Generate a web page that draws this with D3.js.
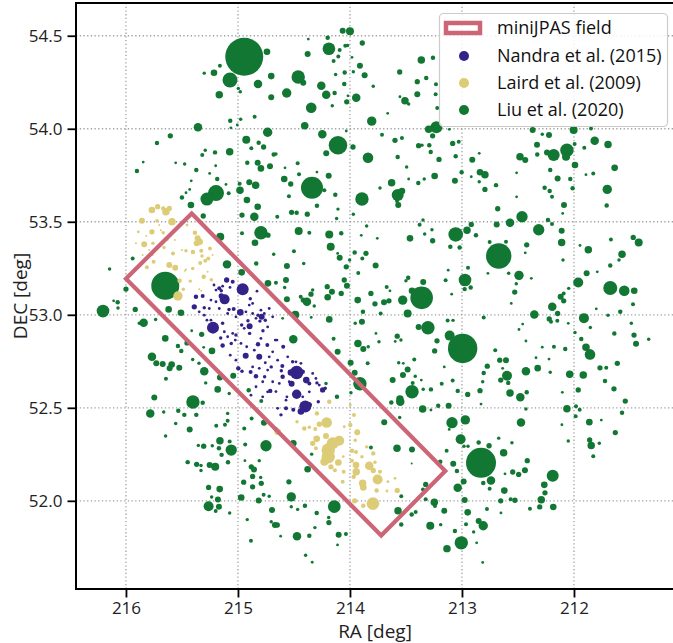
<!DOCTYPE html>
<html><head><meta charset="utf-8">
<script src="https://cdn.jsdelivr.net/npm/d3@7"></script>
<style>body{margin:0;background:#fff}svg{display:block;font-family:"Open Sans",sans-serif}</style>
</head><body><svg id="c" width="673" height="643"></svg>
<script>
const raTicks=[216,215,214,213,212];
const decTicks=[52.0,52.5,53.0,53.5,54.0,54.5];
const fieldCorners=[[216.0,53.194],[215.413,53.545],[213.149,52.160],[213.721,51.814]];
const legendLabels=["miniJPAS field","Nandra et al. (2015)","Laird et al. (2009)","Liu et al. (2020)"];
// [RA, DEC, relative flux]
const liu=[[214.944,54.387,361],[214.741,54.414,11],[215.161,54.339,4],[215.214,54.301,11],[215.301,54.299,3],[215.071,54.262,56],[214.821,54.240,18],[214.703,54.283,11],[215.167,54.183,14],[214.997,54.217,3],[214.979,54.199,3],[214.703,54.169,9],[215.069,54.043,5],[214.976,54.051,3],[214.851,54.065,4],[215.063,54.005,2],[215.006,54.020,2],[215.357,54.008,18],[215.604,53.962,7],[215.723,53.923,5],[214.735,53.981,22],[214.926,53.941,16],[214.815,53.925,5],[214.771,53.902,7],[214.881,53.895,4],[214.681,53.862,5],[215.074,53.876,14],[215.205,53.873,5],[215.292,53.885,3],[215.319,53.859,4],[215.846,53.821,2],[215.556,53.817,2],[215.476,53.810,3],[215.199,53.801,2],[214.917,53.817,5],[214.824,53.817,9],[214.795,53.787,11],[214.714,53.798,9],[215.902,53.773,5],[215.372,53.778,5],[215.253,53.760,2],[215.185,53.730,5],[215.417,53.720,2],[215.107,53.701,2],[214.899,53.713,9],[214.842,53.696,14],[214.985,53.704,4],[214.982,53.669,14],[215.083,53.653,4],[215.196,53.654,64],[215.277,53.622,42],[215.464,53.656,2],[215.431,53.674,2],[215.500,53.631,5],[214.920,53.617,11],
[214.000,54.524,16],[214.065,54.527,9],[214.372,54.482,2],[214.199,54.489,5],[214.188,54.430,40],[214.378,54.402,9],[214.092,54.423,4],[214.042,54.446,4],[214.021,54.448,3],[213.890,54.461,7],[214.104,54.389,4],[214.146,54.364,4],[213.982,54.384,2],[213.911,54.339,9],[214.462,54.278,45],[214.417,54.247,9],[214.128,54.292,3],[214.047,54.303,5],[213.970,54.306,3],[213.869,54.287,9],[214.051,54.240,5],[213.792,54.228,3],[214.565,54.192,22],[214.256,54.231,18],[214.212,54.183,18],[214.137,54.192,5],[214.018,54.177,2],[213.944,54.167,18],[214.029,54.145,7],[214.346,54.113,28],[214.158,54.124,3],[213.663,54.083,2],[213.806,54.041,22],[214.404,54.016,14],[214.033,53.988,2],[214.247,53.970,18],[214.107,53.911,86],[213.973,53.902,7],[214.212,53.868,9],[213.714,53.968,4],[213.839,53.844,28],[213.574,53.848,5],[213.598,53.938,7],[213.536,53.950,4],[213.387,53.909,7],[213.357,53.912,3],[213.292,53.911,5],[213.279,53.875,5],[213.205,53.835,7],[213.494,53.794,3],[213.244,53.746,11],[213.083,53.921,7],[213.029,53.930,4],[213.056,53.852,5],[212.908,53.833,9],[213.003,53.766,5],[213.063,53.720,9],[213.363,54.369,14],[213.259,54.382,5],[213.556,54.305,7],[213.399,54.253,7],[213.319,54.273,5],[213.399,54.185,9],[213.509,54.151,14],[213.554,54.172,2],[213.476,54.133,3],[213.232,54.239,4],[213.235,54.185,4],[213.221,54.111,4],[213.229,54.008,36],[213.297,53.997,14],[213.262,53.962,7],[213.113,53.997,2],[214.587,53.730,11],[214.529,53.703,7],[214.467,53.814,4],[214.455,53.756,4],[214.580,53.790,2],[214.661,53.864,3],[214.339,53.683,121],[214.295,53.767,2],[214.190,53.747,9],[214.229,53.670,4],[214.131,53.645,5],[214.545,53.637,4],[213.893,53.622,45],[213.732,53.681,3],[213.628,53.710,14],[213.574,53.644,36],[213.536,53.665,11],[213.476,53.730,2],[213.390,53.708,5],[213.337,53.730,3],[212.917,53.742,2],
[212.003,53.993,16],[212.369,53.993,9],[212.283,53.970,3],[212.223,53.966,9],[211.848,54.002,4],[211.815,53.935,18],[211.696,53.916,14],[212.330,53.914,9],[212.328,53.862,5],[212.181,53.859,36],[212.241,53.873,9],[212.063,53.885,45],[212.071,53.849,16],[211.994,53.918,4],[211.991,53.805,11],[211.908,53.898,4],[212.482,53.849,14],[212.435,53.832,9],[212.512,53.763,2],[211.637,53.790,11],[211.893,53.753,2],[211.828,53.760,4],[212.846,53.868,2],[212.839,53.766,11],[212.795,53.753,14],[212.846,53.715,3],[212.795,53.674,7],[212.696,53.697,5],[212.262,53.683,5],[212.217,53.665,5],[212.196,53.634,4],[212.212,53.778,5],[212.146,53.733,9],[212.033,53.730,5],[212.012,53.680,5],[211.703,53.674,22],[212.512,53.634,2],
[215.420,53.590,11],[214.824,53.581,11],[214.964,53.536,7],[214.854,53.527,18],[214.795,53.441,45],[214.732,53.428,7],[214.848,53.387,11],[214.964,53.438,4],[215.310,53.531,7],[215.158,53.419,16],[214.681,53.325,3],[215.098,53.271,18],[214.967,53.228,11],[214.837,53.276,5],[214.732,53.169,11],[215.649,53.156,196],[215.940,53.303,4],[216.146,53.246,3],[216.000,53.138,7],[216.110,53.075,2],[216.074,53.067,5],[216.071,53.036,3],[216.205,53.020,40],[215.917,53.029,7],[215.619,53.029,11],[215.509,53.011,11],[215.842,52.957,18],[215.881,52.954,3],[215.735,52.975,3],[215.413,52.914,2],[215.324,52.895,7],[215.649,52.873,11],[215.455,52.849,7],[215.536,52.832,5],[215.506,52.805,5],[215.306,52.825,2],[215.232,52.806,11],[215.768,52.774,18],[215.729,52.739,9],[215.672,52.735,9],[215.592,52.733,11],[215.610,52.712,9],[215.524,52.715,9],[215.404,52.760,3],[215.348,52.739,3],[215.301,52.696,18],[215.161,52.663,9],[215.042,52.672,9],[215.643,52.656,4],[215.288,52.634,3],[215.181,52.599,11],[214.904,52.594,5],[215.078,52.577,3],[215.747,52.556,9],[215.402,52.531,45],
[214.295,53.586,5],[214.107,53.568,3],[214.521,53.551,7],[214.476,53.548,5],[214.381,53.541,7],[214.119,53.518,3],[213.970,53.541,3],[214.649,53.527,4],[213.569,53.590,9],[213.580,53.611,4],[213.348,53.509,3],[213.378,53.484,4],[214.458,53.450,16],[214.363,53.441,4],[214.185,53.432,16],[214.078,53.438,5],[213.851,53.477,3],[213.899,53.427,2],[213.756,53.411,2],[213.464,53.411,11],[213.333,53.434,3],[213.262,53.398,7],[213.268,53.457,3],[213.056,53.432,53],[212.955,53.455,14],[212.917,53.486,7],[213.021,53.362,5],[213.104,53.366,5],[214.172,53.366,16],[214.500,53.342,4],[213.958,53.335,5],[214.110,53.330,2],[214.092,53.306,9],[213.857,53.330,7],[213.890,53.303,4],[214.003,53.294,3],[213.771,53.265,9],[214.413,53.276,3],[214.563,53.262,9],[214.033,53.258,7],[213.926,53.224,4],[214.571,53.187,9],[214.661,53.172,4],[214.051,53.187,7],[214.027,53.156,9],[214.583,53.147,3],[214.203,53.151,7],[214.161,53.124,9],[214.199,53.094,11],[214.333,53.133,3],[214.348,53.111,7],[214.440,53.097,4],[214.384,53.070,18],[214.417,53.079,7],[214.319,53.047,3],[214.563,53.083,9],[214.078,53.115,7],[213.931,53.079,11],[213.813,53.115,7],[213.777,53.059,7],[213.696,53.067,9],[213.652,53.075,7],[213.672,53.149,4],[213.643,53.129,2],[213.500,53.183,3],[213.480,53.199,5],[213.346,53.176,9],[213.360,53.091,128],[213.446,53.129,11],[213.529,53.079,22],[213.485,53.007,16],[213.146,53.185,4],[213.123,53.240,2],[212.973,53.187,40],[212.976,53.138,5],[212.922,53.147,5],[212.946,53.253,4],[213.092,53.111,2],[214.488,53.000,16],[214.601,52.981,2],[214.346,52.986,2],[214.185,52.975,11],[213.884,53.016,5],[213.726,53.007,4],[213.953,52.954,3],[213.893,52.962,9],[213.387,52.935,9],[213.304,52.930,45],[213.128,52.969,4],[213.080,52.970,3],[213.110,52.888,25],[212.994,52.819,216],[214.506,52.868,18],[214.146,52.871,4],[213.929,52.846,14],[213.881,52.816,9],[213.837,52.828,3],[213.768,52.900,2],[213.578,52.885,7],[213.545,52.864,3],[213.596,52.857,2],[213.741,52.855,3],[214.110,52.801,9],[213.994,52.742,9],[213.958,52.688,9],[213.842,52.739,4],[213.223,52.860,7],[213.244,52.806,7],[213.426,52.760,4],[213.565,52.742,3],[213.524,52.739,2],[213.485,52.706,9],[213.527,52.677,9],[213.619,52.649,9],[213.417,52.670,3],[213.363,52.649,2],[213.181,52.629,4],[213.083,52.647,4],[213.038,52.591,5],[212.949,52.572,7],[213.277,52.599,5],[213.346,52.600,3],[213.446,52.586,45],[213.440,52.634,4],[213.554,52.547,14],[213.911,52.629,45],[213.991,52.581,3],[214.116,52.559,5],[214.214,52.631,3],[213.158,52.720,2],
[212.089,53.590,9],[211.708,53.588,5],[212.681,53.570,7],[212.464,53.527,32],[212.571,53.495,18],[212.690,53.486,9],[212.232,53.509,5],[212.196,53.488,4],[212.315,53.457,32],[212.110,53.452,9],[212.110,53.389,14],[212.101,53.545,2],[212.875,53.428,5],[212.753,53.391,4],[212.607,53.392,4],[212.422,53.376,7],[212.435,53.333,2],[212.672,53.316,161],[212.098,53.294,3],[211.946,53.373,2],[211.872,53.349,14],[211.670,53.405,4],[211.471,53.416,7],[211.422,53.389,16],[211.571,53.326,14],[211.598,53.294,3],[211.676,53.265,5],[212.768,53.223,2],[212.583,53.223,3],[212.491,53.212,22],[212.381,53.196,2],[212.515,53.167,3],[212.529,53.122,7],[211.887,53.223,9],[211.792,53.231,2],[211.962,53.174,25],[212.047,53.142,3],[211.676,53.144,49],[211.551,53.129,28],[211.462,53.129,11],[212.119,53.097,9],[212.092,53.075,7],[212.092,53.115,4],[212.560,53.061,2],[212.194,53.043,18],[212.354,53.002,18],[212.146,53.007,7],[212.221,52.978,7],[212.205,52.962,4],[212.149,52.968,4],[212.051,52.954,2],[211.911,52.982,25],[211.801,53.032,2],[211.696,52.998,3],[211.587,53.016,5],[211.473,53.056,4],[212.806,52.986,4],[212.458,52.950,2],[212.491,52.921,2],[211.991,52.905,3],[211.854,52.932,3],[211.488,52.954,3],[211.640,52.900,5],[211.464,52.891,7],[211.446,52.844,9],[211.333,52.868,3],[211.935,52.870,5],[211.893,52.825,14],[211.857,52.787,28],[212.078,52.816,5],[212.179,52.828,4],[212.283,52.826,2],[212.429,52.859,2],[212.703,52.810,4],[212.663,52.756,7],[212.607,52.755,9],[212.339,52.769,2],[212.223,52.762,2],[212.774,52.724,7],[212.806,52.687,5],[212.637,52.712,2],[212.429,52.696,18],[212.324,52.713,11],[212.598,52.672,25],[212.654,52.649,7],[212.587,52.634,5],[212.212,52.691,3],[212.038,52.680,14],[211.917,52.676,14],[211.768,52.715,7],[211.712,52.715,4],[211.613,52.739,7],[211.723,52.644,5],[211.643,52.602,7],[211.962,52.596,7],[212.104,52.583,2],[212.571,52.579,14],[212.479,52.557,18],[212.422,52.584,5],[212.839,52.592,7],[212.815,52.640,3],
[215.783,52.470,18],[215.663,52.478,3],[215.533,52.484,5],[215.479,52.462,5],[215.372,52.462,5],[215.315,52.527,5],[215.556,52.416,3],[215.431,52.384,9],[215.646,52.348,3],[215.194,52.403,4],[215.116,52.409,4],[215.092,52.430,4],[215.092,52.470,3],[215.161,52.323,14],[215.074,52.319,4],[215.060,52.273,32],[215.354,52.298,3],[215.306,52.294,7],[215.229,52.296,3],[215.170,52.282,5],[215.146,52.247,5],[215.449,52.208,5],[215.369,52.196,7],[215.330,52.190,3],[215.330,52.163,3],[215.253,52.192,9],[215.203,52.183,16],[215.089,52.207,5],[215.262,52.072,7],[215.163,52.063,11],[215.235,52.021,3],[215.179,52.007,9],[215.262,51.971,25],[215.170,51.968,9],[215.199,51.945,4],[215.074,51.934,3],[214.935,52.303,4],[214.944,52.389,4],[214.878,52.443,4],[214.750,52.296,32],[214.938,52.216,2],[214.810,52.216,3],[214.881,52.183,7],[214.857,52.169,9],[214.869,52.131,7],[214.949,52.100,7],[214.797,52.126,3],[214.792,52.094,7],[214.869,52.075,7],[214.771,52.033,4],[214.721,52.024,3],[214.971,52.018,11],[214.815,52.002,9],[214.696,51.951,9],[214.917,51.899,3],[214.703,51.888,3],[214.670,51.870,9],[214.884,51.785,4],[214.792,52.536,4],[214.768,52.419,9],
[213.551,52.532,18],[213.351,52.493,14],[213.277,52.488,2],[213.212,52.511,5],[213.119,52.511,9],[213.631,52.529,5],[213.694,52.423,9],[213.556,52.448,3],[213.089,52.420,32],[212.970,52.435,22],[213.114,52.384,2],[213.012,52.331,25],[212.982,52.293,3],[212.946,52.293,3],[214.661,52.383,5],[214.506,52.309,11],[214.342,52.251,3],[214.378,52.170,11],[213.813,52.287,4],[213.580,52.282,14],[213.446,52.276,9],[213.137,52.269,4],[213.449,52.201,1],[213.194,52.210,5],[213.078,52.199,9],[213.045,52.160,5],[212.830,52.204,225],[214.545,52.102,7],[213.324,52.088,7],[213.348,52.061,4],[213.038,52.070,18],[212.985,52.104,9],[214.524,52.021,22],[214.402,51.974,5],[214.467,51.954,3],[214.524,51.968,3],[214.140,51.969,40],[214.297,51.935,5],[214.190,51.910,3],[214.188,51.883,7],[214.649,51.870,7],[214.313,51.856,3],[214.473,51.809,18],[214.363,51.812,5],[214.101,51.817,9],[214.036,51.821,4],[214.619,51.810,2],[214.111,51.763,2],[214.396,51.707,3],[214.337,51.670,2],[213.542,52.024,4],[213.324,52.008,4],[213.571,51.947,14],[213.449,51.927,5],[213.413,51.940,4],[213.542,51.873,5],[213.283,51.866,16],[213.247,51.992,14],[213.241,51.972,4],[213.190,51.872,3],[213.158,51.946,9],[213.063,51.838,5],[213.006,51.774,45],[213.134,51.743,14],[212.949,51.938,11],[212.976,52.004,9],[212.964,51.874,4],[212.896,51.833,3],
[212.063,52.495,14],[211.982,52.509,4],[211.949,52.489,4],[211.985,52.454,4],[211.571,52.473,5],[211.542,52.536,7],[212.429,52.494,3],[212.830,52.520,2],[212.473,52.421,18],[212.108,52.409,2],[211.863,52.423,11],[211.756,52.434,2],[211.631,52.367,7],[212.851,52.313,5],[212.758,52.296,7],[212.672,52.337,3],[212.554,52.312,3],[212.051,52.322,3],[211.860,52.327,7],[211.846,52.298,14],[211.774,52.309,3],[211.828,52.240,4],[212.628,52.258,14],[212.417,52.216,7],[212.438,52.164,9],[212.547,52.155,7],[212.494,52.142,7],[212.616,52.145,2],[212.190,52.135,36],[212.741,52.109,18],[212.810,52.096,5],[212.265,52.086,11],[212.753,52.065,4],[212.622,52.055,11],[212.259,52.043,7],[212.654,52.000,7],[212.565,52.008,4],[212.527,52.003,7],[212.292,52.006,14],[212.306,51.967,7],[212.185,51.967,11],[212.393,51.958,4],[212.777,51.956,4],[212.652,51.935,2],[212.851,51.892,9],[212.810,51.866,22],[212.869,51.774,2],[212.815,51.669,2]];
const nandra=[[214.958,53.137,36],[215.119,53.083,25],[215.149,53.101,7],[215.047,53.177,4],[215.101,53.187,7],[215.167,53.142,4],[215.149,53.129,3],[215.214,53.160,2],[215.315,53.101,4],[215.375,53.097,5],[214.890,53.086,3],[214.830,53.127,2],[215.390,53.043,7],[215.301,53.038,3],[215.080,53.029,3],[215.038,53.031,4],[214.979,53.013,11],[214.899,53.052,2],[214.821,52.998,3],[214.788,52.989,9],[214.795,53.025,2],[214.721,53.034,2],[215.223,52.931,36],[215.277,52.971,2],[215.137,52.954,3],[214.967,52.945,3],[214.896,52.939,9],[214.911,52.968,3],[214.804,52.966,3],[214.756,52.971,3],[215.137,52.835,5],[215.154,52.875,3],[215.060,52.846,3],[215.018,52.891,3],[214.931,52.780,9],[214.810,52.774,9],[214.821,52.842,5],[214.738,52.837,4],[215.069,52.783,2],[214.896,52.900,3],[214.777,52.914,3],[214.997,52.712,5],[214.964,52.697,3],[214.887,52.692,4],[214.839,52.670,5],[214.762,52.667,3],[214.756,52.742,2],[214.703,52.720,3],[214.779,52.640,2],[214.712,52.591,5],
[214.476,52.690,45],[214.527,52.690,11],[214.422,52.694,5],[214.604,52.725,4],[214.512,52.747,3],[214.613,52.699,3],[214.601,52.667,5],[214.521,52.629,9],[214.390,52.649,11],[214.363,52.631,4],[214.295,52.634,3],[214.244,52.596,7],[214.221,52.605,3],[214.476,52.573,22],[214.596,52.828,4],[214.652,52.864,2],[214.661,52.587,2],[214.422,52.559,2],[214.563,52.559,2],
[214.399,52.507,36],[214.438,52.480,11],[214.363,52.516,7],[214.506,52.489,4],[214.571,52.497,4],[214.616,52.462,3],[214.283,52.532,3],[214.646,52.497,2],
[215.196,53.133,2],[215.137,53.154,2],[215.071,53.147,2],[215.241,53.079,2],[215.196,53.070,2],[215.256,53.034,2],[215.167,53.034,2],[215.092,53.007,2],[215.018,52.989,2],[214.929,53.016,2],[214.869,53.007,2],[214.839,52.981,2],[214.735,52.935,2],[214.944,52.927,2],[215.047,52.900,2],[215.092,52.882,2],[215.024,52.864,2],[214.973,52.846,2],[214.922,52.828,2],[214.854,52.810,2],[214.721,52.774,2],[214.690,52.801,2],[214.735,52.703,2],[214.810,52.712,2],[214.869,52.720,2],[215.018,52.756,2],[215.122,52.909,2],[215.241,52.971,2],[215.346,53.016,2],[215.301,52.998,2],[214.869,53.061,2],[214.765,53.007,2],[214.690,52.989,2],[214.667,52.864,2],[214.795,52.873,2],[214.839,52.613,2],[214.884,52.568,2],[214.779,52.559,2],[214.690,52.640,2],[214.735,52.586,2],[214.646,52.756,2],[214.556,52.774,2],[214.482,52.747,2],[214.333,52.685,2],[214.304,52.658,2],[214.274,52.622,2],[214.363,52.586,2],[214.542,52.640,2],[214.631,52.631,2],[214.571,52.541,2],[214.438,52.739,2]];
const laird=[[215.768,53.563,11],[215.717,53.581,7],[215.643,53.554,14],[215.667,53.572,5],[215.613,53.572,7],[215.857,53.505,9],[215.723,53.505,3],[215.589,53.500,14],[215.890,53.446,2],[215.768,53.446,7],[215.667,53.441,3],[215.819,53.423,1],[215.837,53.379,9],[215.759,53.384,3],[215.563,53.402,1],[215.455,53.482,2],[215.384,53.441,5],[215.360,53.411,9],[215.342,53.392,11],[215.369,53.384,9],[215.661,53.362,3],[215.580,53.330,4],[215.464,53.344,3],[215.402,53.337,5],[215.328,53.344,4],[215.250,53.357,4],[215.321,53.316,3],[215.265,53.303,4],[215.753,53.285,4],[215.337,53.278,4],[215.292,53.290,4],[215.613,53.267,9],[215.560,53.253,9],[215.813,53.255,4],[215.404,53.249,3],[215.473,53.237,1],[215.306,53.204,5],[215.238,53.188,3],[215.426,53.181,3],[215.521,53.183,5],[215.488,53.137,3],[215.536,53.101,22],[215.346,53.137,1],[215.328,53.129,1],
[215.851,53.321,1],[215.762,53.321,1],[215.688,53.454,1],[215.792,53.348,1],[215.500,53.348,1],[215.464,53.244,1],[215.226,53.321,1],[215.271,53.231,1],[215.703,53.482,1],[215.911,53.384,1],[215.628,53.402,1],
[214.185,52.532,5],[214.295,52.470,5],[214.208,52.421,28],[214.274,52.412,7],[214.363,52.395,3],[214.310,52.386,4],[214.473,52.425,3],[214.408,52.389,5],[214.214,52.348,9],[214.297,52.333,11],[214.096,52.323,25],[214.154,52.310,36],[214.194,52.273,45],[214.333,52.309,7],[214.304,52.282,4],[214.194,52.237,45],[214.229,52.210,16],[214.104,52.206,11],[214.170,52.183,7],[214.134,52.165,4],[214.056,52.156,4],[214.065,52.102,4],[214.646,52.371,11],[213.935,52.368,9],[213.953,52.326,3],[213.997,52.407,5],[213.964,52.461,4],[213.997,52.515,2],[213.982,52.269,5],[213.946,52.263,4],[213.851,52.290,3],[213.792,52.255,5],[213.893,52.237,3],[213.982,52.215,4],[213.946,52.192,11],[213.944,52.156,14],[213.967,52.129,5],[213.828,52.188,18],[213.792,52.163,7],[213.777,52.207,3],[213.732,52.156,4],[213.887,52.094,14],[213.881,52.072,11],[213.753,52.115,25],[213.762,52.055,5],[213.661,52.103,2],[213.598,52.121,2],[213.670,52.053,2],[213.578,52.056,7],[213.998,52.046,1],[213.958,52.000,7],[213.795,51.985,40],[213.881,51.974,5],[214.060,52.238,2],[214.051,52.398,2]];

const W=673,H=643,L=76,R=674,T=3,B=589;
const x=d3.scaleLinear().domain([216.446,211.107]).range([L,R]);
const y=d3.scaleLinear().domain([54.676,51.526]).range([T,B]);
const rs=d3.scaleSqrt().domain([0,400]).range([0,20]);
const svg=d3.select("#c");
svg.append("rect").attr("width",W).attr("height",H).attr("fill","#fff");
svg.append("defs").append("clipPath").attr("id","clip").append("rect").attr("x",L).attr("y",T).attr("width",R-L).attr("height",B-T);

const grid=svg.append("g").attr("stroke","#a0a0a0").attr("stroke-width",1.3).attr("stroke-dasharray","1.3,2.4");
raTicks.forEach(t=>grid.append("line").attr("x1",x(t)).attr("x2",x(t)).attr("y1",T).attr("y2",B));
decTicks.forEach(t=>grid.append("line").attr("x1",L).attr("x2",R).attr("y1",y(t)).attr("y2",y(t)));

const pts=svg.append("g").attr("clip-path","url(#clip)");
function draw(data,color){
  pts.append("g").selectAll("circle").data(data).join("circle")
    .attr("cx",d=>x(d[0])).attr("cy",d=>y(d[1])).attr("r",d=>rs(d[2])).attr("fill",color);
}
draw(liu,"#117733");
draw(nandra,"#332288");
draw(laird,"#DDCC77");

svg.append("path")
  .attr("d",d3.line().x(d=>x(d[0])).y(d=>y(d[1])).curve(d3.curveLinearClosed)(fieldCorners))
  .attr("fill","none").attr("stroke","#CC6677").attr("stroke-width",4.2).attr("stroke-linejoin","miter");

// axes
const gx=svg.append("g").attr("transform",`translate(0,${B})`)
  .call(d3.axisBottom(x).tickValues(raTicks).tickFormat(d3.format("d")).tickSize(8.5).tickPadding(4));
const gy=svg.append("g").attr("transform",`translate(${L},0)`)
  .call(d3.axisLeft(y).tickValues(decTicks).tickFormat(d3.format(".1f")).tickSize(8.5).tickPadding(5));
[gx,gy].forEach(g=>{
  g.select(".domain").remove();
  g.selectAll(".tick line").attr("stroke","#000").attr("stroke-width",1.8);
  g.selectAll(".tick text").attr("font-size",17).attr("fill","#222").attr("font-family","Open Sans");
});

// spines
const sp=svg.append("g").attr("stroke","#000").attr("stroke-width",2).attr("fill","none");
sp.append("path").attr("d",`M${L},${T}V${B}H${R}V${T}Z`);

svg.append("text").attr("x",(L+R)/2).attr("y",638).attr("text-anchor","middle")
  .attr("font-size",19).attr("fill","#222").text("RA [deg]");
svg.append("text").attr("transform",`translate(27,${(T+B)/2}) rotate(-90)`).attr("text-anchor","middle")
  .attr("font-size",19).attr("fill","#222").text("DEC [deg]");

// legend
const lg=svg.append("g");
lg.append("rect").attr("x",439.5).attr("y",13.5).attr("width",228).attr("height",113).attr("rx",4)
  .attr("fill","#fff").attr("fill-opacity",0.85).attr("stroke","#cccccc").attr("stroke-width",1.2);
const rowY=[28,56,83,110];
lg.append("rect").attr("x",446).attr("y",rowY[0]-5).attr("width",34).attr("height",10)
  .attr("fill","none").attr("stroke","#CC6677").attr("stroke-width",4.5);
const mk=["#332288","#DDCC77","#117733"];
mk.forEach((c,i)=>lg.append("circle").attr("cx",464).attr("cy",rowY[i+1]).attr("r",5).attr("fill",c));
legendLabels.forEach((t,i)=>lg.append("text").attr("x",497).attr("y",rowY[i]).attr("dy","0.36em")
  .attr("font-size",18).attr("fill","#111").text(t));
</script></body></html>
